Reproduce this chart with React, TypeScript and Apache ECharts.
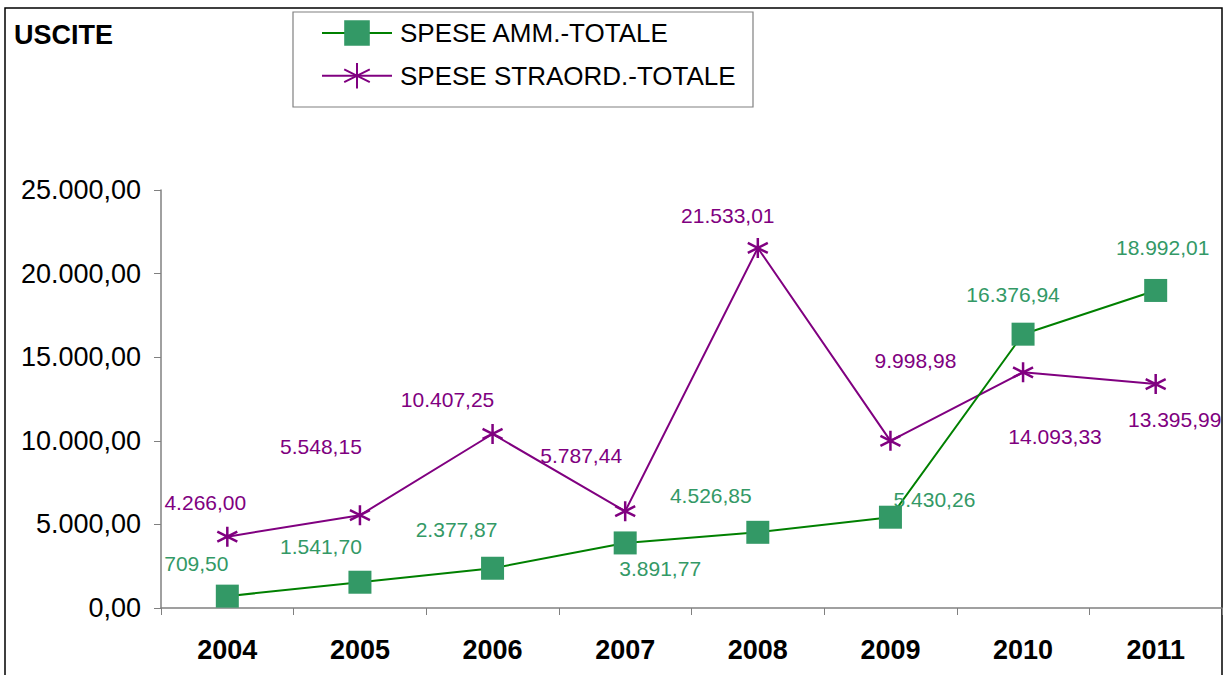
import React, { useEffect, useRef } from "react";
import * as echarts from "echarts";

const years = ["2004", "2005", "2006", "2007", "2008", "2009", "2010", "2011"];
const speseAmm = [709.5, 1541.7, 2377.87, 3891.77, 4526.85, 5430.26, 16376.94, 18992.01];
const speseStraord = [4266.0, 5548.15, 10407.25, 5787.44, 21533.01, 9998.98, 14093.33, 13395.99];
const seriesNames = ["SPESE AMM.-TOTALE", "SPESE STRAORD.-TOTALE"];
const yTicks = { min: 0, max: 25000, interval: 5000 };

// label offsets (px) relative to each point, matching the reference placement
const ammOffsets = [[-31, -33], [-39, -36], [-36, -39], [35, 26], [-47, -37], [44, -18], [-10, -40], [7, -43]];
const straordOffsets = [[-22, -34], [-39, -69], [-45, -34], [-44, -56], [-30, -32], [25, -80], [32, 64], [19, 35]];

function fmtIt(v: number): string {
  const s = v.toFixed(2);
  const [int, dec] = s.split(".");
  const withDots = int.replace(/\B(?=(\d{3})+(?!\d))/g, ".");
  return withDots + "," + dec;
}

const asterisk = "path://M10 0 L10 20 M1.3 5 L18.7 15 M1.3 15 L18.7 5";
const FONT = "Liberation Sans, Arial, sans-serif";

export default function App() {
  const ref = useRef<HTMLDivElement>(null);
  useEffect(() => {
    if (!ref.current) return;
    const chart = echarts.init(ref.current, null, { renderer: "svg" });
    const mk = (vals: number[], offs: number[][]) =>
      vals.map((v, i) => ({
        value: v,
        label: { offset: offs[i] },
      }));
    chart.setOption({
      animation: false,
      backgroundColor: "#ffffff",
      textStyle: { fontFamily: FONT },
      graphic: [
        {
          type: "rect",
          shape: { x: 5, y: 8, width: 1217, height: 700 },
          style: { fill: "none", stroke: "#000", lineWidth: 1.5 },
          z: -1,
        },
        {
          type: "rect",
          shape: { x: 293, y: 12, width: 460, height: 95 },
          style: { fill: "none", stroke: "#808080", lineWidth: 1.2 },
          z: -1,
        },
        {
          type: "text",
          left: 14,
          top: 21,
          style: { text: "USCITE", font: "bold 27px " + FONT, fill: "#000" },
        },
      ],
      legend: {
        left: 321,
        top: 20,
        orient: "vertical",
        padding: 0,
        itemGap: 16,
        itemWidth: 70,
        itemHeight: 32,
        borderWidth: 0,
        textStyle: { fontSize: 26, color: "#000", fontFamily: FONT, padding: [0, 0, 0, 3] },
        data: seriesNames,
      },
      grid: { left: 161, right: 3, top: 190, bottom: 67, containLabel: false },
      xAxis: {
        type: "category",
        data: years,
        boundaryGap: true,
        axisLine: { lineStyle: { color: "#808080", width: 1.5 } },
        axisTick: { show: true, length: 7, inside: false, alignWithLabel: false, lineStyle: { color: "#808080" } },
        axisLabel: { fontSize: 27, fontWeight: "bold", color: "#000", margin: 28, fontFamily: FONT },
      },
      yAxis: {
        type: "value",
        min: yTicks.min,
        max: yTicks.max,
        interval: yTicks.interval,
        splitLine: { show: false },
        axisLine: { show: true, lineStyle: { color: "#808080", width: 1.5 } },
        axisTick: { show: true, length: 7, lineStyle: { color: "#808080" } },
        axisLabel: { fontSize: 27, color: "#000", margin: 20, formatter: (v: number) => fmtIt(v), fontFamily: FONT },
      },
      series: [
        {
          name: seriesNames[0],
          type: "line",
          data: mk(speseAmm, ammOffsets),
          symbol: "rect",
          symbolSize: 23,
          lineStyle: { color: "#008000", width: 2 },
          itemStyle: { color: "#339966" },
          label: {
            show: true,
            position: "inside",
            align: "center",
            verticalAlign: "middle",
            color: "#339966",
            fontSize: 21,
            fontFamily: FONT,
            formatter: (p: any) => fmtIt(p.value),
          },
          z: 3,
        },
        {
          name: seriesNames[1],
          type: "line",
          data: mk(speseStraord, straordOffsets),
          symbol: asterisk,
          symbolSize: 20,
          lineStyle: { color: "#800080", width: 2 },
          itemStyle: { color: "#800080", borderColor: "#800080", borderWidth: 2.5 },
          label: {
            show: true,
            position: "inside",
            align: "center",
            verticalAlign: "middle",
            color: "#800080",
            fontSize: 21,
            fontFamily: FONT,
            formatter: (p: any) => fmtIt(p.value),
          },
          z: 2,
        },
      ],
    });
    return () => chart.dispose();
  }, []);
  return (
    <div
      ref={ref}
      style={{ position: "fixed", left: 0, top: 0, width: 1225, height: 675, background: "#fff" }}
    />
  );
}
